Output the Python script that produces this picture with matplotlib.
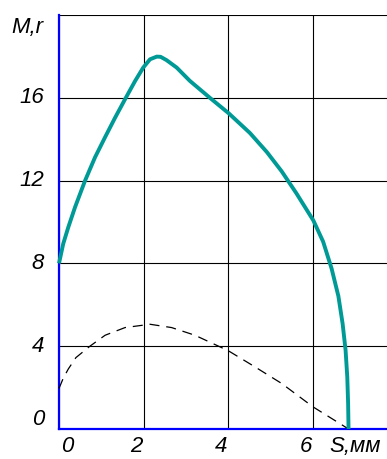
import matplotlib
matplotlib.use("Agg")
import matplotlib.pyplot as plt
from matplotlib.transforms import offset_copy

# ---- data ----
m_x = [0.0, 0.10, 0.22, 0.378, 0.614, 0.85, 1.087, 1.32, 1.576, 1.80, 1.99, 2.15,
       2.31, 2.40, 2.54, 2.78, 3.09, 3.57, 4.01, 4.51, 4.91, 5.26, 5.61, 6.01,
       6.24, 6.44, 6.60, 6.70, 6.77, 6.81, 6.83, 6.84]
m_y = [8.0, 8.95, 9.75, 10.71, 11.99, 13.12, 14.09, 15.02, 15.99, 16.82, 17.46, 17.86,
       17.99, 17.98, 17.82, 17.46, 16.82, 15.99, 15.25, 14.30, 13.38, 12.45, 11.38, 10.07,
       9.05, 7.75, 6.42, 5.09, 3.81, 2.52, 1.24, 0.0]

r_x = [0.0, 0.10, 0.22, 0.40, 0.73, 1.09, 1.56, 2.15, 2.66, 3.21, 3.77, 4.0, 4.63,
       5.26, 6.0, 6.44, 6.84]
r_y = [1.96, 2.45, 2.9, 3.45, 4.0, 4.53, 4.9, 5.06, 4.9, 4.53, 4.0, 3.78, 3.0,
       2.2, 1.07, 0.51, 0.0]

x_ticks = [0, 2, 4, 6]
x_tick_labels = ["0", "2", "4", "6"]
y_ticks = [0, 4, 8, 12, 16, 20]
y_tick_labels = ["0", "4", "8", "12", "16"]
x_label = "S,мм"
y_label = "M,r"

W, H = 387, 459
fig = plt.figure(figsize=(W / 100, H / 100), dpi=100)
ax = fig.add_axes([59 / W, 30 / H, 1 - 59 / W, 414 / H])
ax.set_xlim(0, 328 / 42.33)
ax.set_ylim(0, 20)

ax.set_xticks(x_ticks)
ax.set_yticks(y_ticks)
ax.grid(True, color="black", lw=0.8)
ax.set_axisbelow(True)
ax.tick_params(length=0, labelbottom=False, labelleft=False)
for s in ("top", "right"):
    ax.spines[s].set_visible(False)
for s in ("left", "bottom"):
    ax.spines[s].set_color("#0000ff")
    ax.spines[s].set_linewidth(1.6)
    ax.spines[s].set_zorder(3)

ax.plot(r_x, r_y, color="black", lw=0.9, dashes=(8, 5.5), zorder=4, clip_on=False)
ax.plot(m_x, m_y, color="#009a96", lw=2.8, zorder=5, clip_on=False,
        solid_joinstyle="round", solid_capstyle="butt")

font = dict(family=["Liberation Sans", "DejaVu Sans"],
            style="italic", fontsize=16, color="black")

# x tick labels
xt = ax.get_xaxis_transform()
y_ax = -23 / 414
for i, (v, lab) in enumerate(zip(x_ticks, x_tick_labels)):
    dx = 6.1 if i == 0 else -5.4
    tr = offset_copy(xt, fig=fig, x=dx, y=0, units="points")
    ax.text(v, y_ax, lab, transform=tr, ha="center", va="baseline", **font)
ax.text((355 - 59) / 42.33, y_ax, x_label, transform=xt, ha="center", va="baseline", **font)

# y tick labels
yt = ax.get_yaxis_transform()
x_ax = -15 / 328
for v, lab in zip(y_ticks, y_tick_labels):
    dy = 6.5 if v == 0 else 0
    tr = offset_copy(yt, fig=fig, x=0, y=dy, units="points")
    ax.text(x_ax, v, lab, transform=tr, ha="right", va="center", **font)
ax.text(-16 / 328, (429 - 27) / 20.75, y_label, transform=yt, ha="right", va="center", **font)

fig.savefig("out.png", dpi=100)
